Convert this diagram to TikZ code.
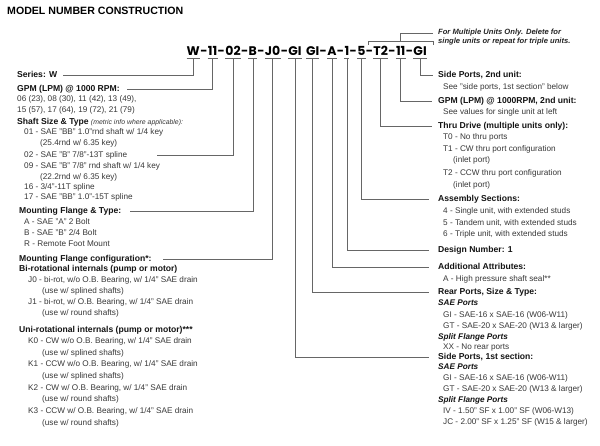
\documentclass[tikz,border=0pt]{standalone}
\usepackage{fontspec}
\setmainfont{Liberation Sans}
\newfontfamily\modelfont{Poppins}
\usetikzlibrary{calc}
\begin{document}
\begin{tikzpicture}[x=1pt,y=-1pt,
  txt/.style={anchor=west, inner sep=0pt, text height=6pt, text depth=1.7pt, font=\fontsize{8.2}{9}\selectfont, text=black!78},
  hd/.style={txt, font=\bfseries\fontsize{8.6}{9}\selectfont, text=black!92},
  hdi/.style={txt, font=\bfseries\itshape\fontsize{8.2}{9}\selectfont, text=black!92},
  note/.style={anchor=west, inner sep=0pt, font=\bfseries\itshape\fontsize{7.6}{8}\selectfont, text=black!85},
  code/.style={anchor=base west, inner sep=0pt, font=\modelfont\bfseries\fontsize{12.5}{14}\selectfont, text=black},
  conn/.style={draw=black!60, line width=0.6pt},
]
\useasboundingbox (0,0) rectangle (600,445);
\fill[white] (0,0) rectangle (600,445);

% title
\node[anchor=west, inner sep=0pt, font=\bfseries\fontsize{10.6}{12}\selectfont] (title) at (7,11) {MODEL NUMBER CONSTRUCTION};

% model number
\node[code] (cW) at (186.5,55.5) {W};
\node[code] (h1) at (cW.base east) {-};
\node[code] (c11) at (h1.base east) {11};
\node[code] (h2) at (c11.base east) {-};
\node[code] (c02) at (h2.base east) {02};
\node[code] (h3) at (c02.base east) {-};
\node[code] (cB) at (h3.base east) {B};
\node[code] (h4) at (cB.base east) {-};
\node[code] (cJ) at (h4.base east) {J0};
\node[code] (h5) at (cJ.base east) {-};
\node[code] (cG1) at (h5.base east) {GI};
\node[code] (cG2) at ([xshift=4pt]cG1.base east) {GI};
\node[code] (h6) at (cG2.base east) {-};
\node[code] (cA) at (h6.base east) {A};
\node[code] (h7) at (cA.base east) {-};
\node[code] (cOne) at (h7.base east) {1};
\node[code] (h8) at (cOne.base east) {-};
\node[code] (cFive) at (h8.base east) {5};
\node[code] (h9) at (cFive.base east) {-};
\node[code] (cT) at (h9.base east) {T2};
\node[code] (h10) at (cT.base east) {-};
\node[code] (c11b) at (h10.base east) {11};
\node[code] (h11) at (c11b.base east) {-};
\node[code] (cG3) at (h11.base east) {GI};

\foreach \n in {cW,c11,c02,cB,cJ,cG1,cG2,cA,cOne,cFive,cT,c11b,cG3}
  \draw[conn] ([yshift=-2.5pt]\n.base west) -- ([yshift=-2.5pt]\n.base east);

% bracket for multiple units
\node[note] (nA) at (438,33) {For Multiple Units Only. Delete for};
\node[note] (nB) at (438,42) {single units or repeat for triple units.};
\coordinate (bL) at (368,45);
\coordinate (bR) at (433,45);
\coordinate (bM) at (400,41);
\draw[conn] (bL) -- ++(0,-4) -- ([yshift=4pt]bR) -- (bR);
\draw[conn] (bM) |- ([xshift=-5pt]nA.west);

% left column
\node[hd]  (lSeries) at (17,75)  {Series: W};
\node[hd]  (lGPM)    at (17,89)  {GPM (LPM) @ 1000 RPM:};
\node[txt] (lG1)     at (17,99)  {06 (23), 08 (30), 11 (42), 13 (49),};
\node[txt] (lG2)     at (17,110) {15 (57), 17 (64), 19 (72), 21 (79)};
\node[txt] (lShaft)  at (17,122) {{\bfseries\fontsize{8.6}{9}\selectfont\color{black!92}Shaft Size \& Type} {\itshape\fontsize{6.9}{8}\selectfont(metric info where applicable):}};
\node[txt] (lS01)    at (24,132) {01 - SAE "BB" 1.0"rnd shaft w/ 1/4 key};
\node[txt] (lS01b)   at (40,143) {(25.4rnd w/ 6.35 key)};
\node[txt] (lS02)    at (24,155) {02 - SAE "B" 7/8"-13T spline};
\node[txt] (lS09)    at (24,166) {09 - SAE "B" 7/8" rnd shaft w/ 1/4 key};
\node[txt] (lS09b)   at (40,177) {(22.2rnd w/ 6.35 key)};
\node[txt] (lS16)    at (24,187) {16 - 3/4"-11T spline};
\node[txt] (lS17)    at (24,197) {17 - SAE "BB" 1.0"-15T spline};
\node[hd]  (lMF)     at (19,211) {Mounting Flange \& Type:};
\node[txt] (lMFA)    at (24,222) {A - SAE "A" 2 Bolt};
\node[txt] (lMFB)    at (24,233) {B - SAE "B" 2/4 Bolt};
\node[txt] (lMFR)    at (24,244) {R - Remote Foot Mount};
\node[hd]  (lMC)     at (19,259) {Mounting Flange configuration*:};
\node[hd]  (lBi)     at (19,269) {Bi-rotational internals (pump or motor)};
\node[txt] (lJ0)     at (28,280) {J0 - bi-rot, w/o O.B. Bearing, w/ 1/4" SAE drain};
\node[txt] (lJ0b)    at (42,291) {(use w/ splined shafts)};
\node[txt] (lJ1)     at (28,302) {J1 - bi-rot, w/ O.B. Bearing, w/ 1/4" SAE drain};
\node[txt] (lJ1b)    at (42,313) {(use w/ round shafts)};
\node[hd]  (lUni)    at (19,330) {Uni-rotational internals (pump or motor)***};
\node[txt] (lK0)     at (28,341) {K0 - CW w/o O.B. Bearing, w/ 1/4" SAE drain};
\node[txt] (lK0b)    at (42,353) {(use w/ splined shafts)};
\node[txt] (lK1)     at (28,364) {K1 - CCW w/o O.B. Bearing, w/ 1/4" SAE drain};
\node[txt] (lK1b)    at (42,376) {(use w/ splined shafts)};
\node[txt] (lK2)     at (28,388) {K2 - CW w/ O.B. Bearing, w/ 1/4" SAE drain};
\node[txt] (lK2b)    at (42,399) {(use w/ round shafts)};
\node[txt] (lK3)     at (28,411) {K3 - CCW w/ O.B. Bearing, w/ 1/4" SAE drain};
\node[txt] (lK3b)    at (42,423) {(use w/ round shafts)};

% right column
\node[hd]  (rSP2)  at (438,75)  {Side Ports, 2nd unit:};
\node[txt] (rSP2a) at (443,87)  {See "side ports, 1st section" below};
\node[hd]  (rGPM2) at (438,101) {GPM (LPM) @ 1000RPM, 2nd unit:};
\node[txt] (rGPM2a) at (443,112) {See values for single unit at left};
\node[hd]  (rTD)   at (438,126) {Thru Drive (multiple units only):};
\node[txt] (rT0)   at (443,137) {T0 - No thru ports};
\node[txt] (rT1)   at (443,149) {T1 - CW thru port configuration};
\node[txt] (rT1b)  at (453,160) {(inlet port)};
\node[txt] (rT2)   at (443,173) {T2 - CCW thru port configuration};
\node[txt] (rT2b)  at (453,185) {(inlet port)};
\node[hd]  (rAS)   at (438,199) {Assembly Sections:};
\node[txt] (rAS4)  at (443,211) {4 - Single unit, with extended studs};
\node[txt] (rAS5)  at (443,223) {5 - Tandem unit, with extended studs};
\node[txt] (rAS6)  at (443,234) {6 - Triple unit, with extended studs};
\node[hd]  (rDN)   at (438,250) {Design Number: 1};
\node[hd]  (rAA)   at (438,267) {Additional Attributes:};
\node[txt] (rAAa)  at (443,279) {A - High pressure shaft seal**};
\node[hd]  (rRP)   at (438,292) {Rear Ports, Size \& Type:};
\node[hdi] (rRPs)  at (438,303) {SAE Ports};
\node[txt] (rRP1)  at (443,315) {GI - SAE-16 x SAE-16 (W06-W11)};
\node[txt] (rRP2)  at (443,326) {GT - SAE-20 x SAE-20 (W13 \& larger)};
\node[hdi] (rRPf)  at (438,337) {Split Flange Ports};
\node[txt] (rRP3)  at (443,347) {XX - No rear ports};
\node[hd]  (rSP1)  at (438,357) {Side Ports, 1st section:};
\node[hdi] (rSP1s) at (438,367) {SAE Ports};
\node[txt] (rSP11) at (443,378) {GI - SAE-16 x SAE-16 (W06-W11)};
\node[txt] (rSP12) at (443,389) {GT - SAE-20 x SAE-20 (W13 \& larger)};
\node[hdi] (rSP1f) at (438,400) {Split Flange Ports};
\node[txt] (rSP13) at (443,411) {IV - 1.50" SF x 1.00" SF (W06-W13)};
\node[txt] (rSP14) at (443,422) {JC - 2.00" SF x 1.25" SF (W15 \& larger)};

% connectors, left (free ends at the label's height)
\draw[conn] ([yshift=-2.5pt]cW.base)  |- (lSeries.east -| 63,0);
\draw[conn] ([yshift=-2.5pt]c11.base) |- (lGPM.east -| 127,0);
\draw[conn] ([yshift=-2.5pt]c02.base) |- (lS02.east -| 157,0);
\draw[conn] ([yshift=-2.5pt]cB.base)  |- (lMF.east -| 130,0);
\draw[conn] ([yshift=-2.5pt]cJ.base)  |- (lMC.east -| 163,0);
% connectors, right
\draw[conn] ([yshift=-2.5pt]cG1.base)   |- (rSP1.west -| 429,0);
\draw[conn] ([yshift=-2.5pt]cG2.base)   |- (rRP.west -| 429,0);
\draw[conn] ([yshift=-2.5pt]cA.base)    |- (rAA.west -| 429,0);
\draw[conn] ([yshift=-2.5pt]cOne.base)  |- (rDN.west -| 429,0);
\draw[conn] ([yshift=-2.5pt]cFive.base) |- (rAS.west -| 429,0);
\draw[conn] ([yshift=-2.5pt]cT.base)    |- (rTD.west -| 432,0);
\draw[conn] ([yshift=-2.5pt]c11b.base)  |- (rGPM2.west -| 432,0);
\draw[conn] ([yshift=-2.5pt]cG3.base)   |- (rSP2.west -| 433,0);
\end{tikzpicture}
\end{document}
